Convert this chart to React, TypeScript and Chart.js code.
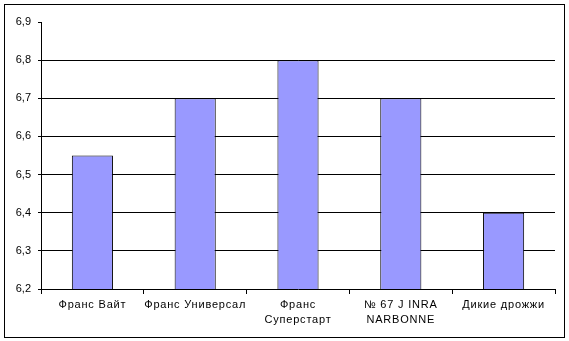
import React, { useEffect, useRef } from "react";
import { Chart, registerables } from "chart.js";

Chart.register(...registerables);

const categories: (string | string[])[] = [
  "Франс Вайт",
  "Франс Универсал",
  ["Франс", "Суперстарт"],
  ["№ 67 J INRA", "NARBONNE"],
  "Дикие дрожжи",
];
const values = [6.55, 6.7, 6.8, 6.7, 6.4];
const yMin = 6.2;
const yMax = 6.9;
const yStep = 0.1;

const borderPlugin = {
  id: "outerBorder",
  afterLayout(chart: any) {
    const sx = chart.scales.x;
    if (sx && !sx.__wrapped) {
      const orig = sx.drawLabels;
      sx.drawLabels = function (area: any) {
        const ctx = this.ctx;
        ctx.save();
        ctx.letterSpacing = "0.8px";
        orig.call(this, area);
        ctx.restore();
      };
      sx.__wrapped = true;
    }
  },
  afterDraw(chart: any) {
    const ctx = chart.ctx;
    ctx.save();
    ctx.strokeStyle = "#000";
    ctx.lineWidth = 1;
    ctx.strokeRect(4.5, 4.5, 560, 333);
    ctx.restore();
  },
};

export default function App() {
  const ref = useRef<HTMLCanvasElement | null>(null);
  useEffect(() => {
    document.body.style.margin = "0";
    if (!ref.current) return;
    const chart = new Chart(ref.current, {
      type: "bar",
      data: {
        labels: categories,
        datasets: [
          {
            data: values,
            backgroundColor: "#9999FF",
            borderColor: "#000000",
            borderWidth: 1,
            barPercentage: 0.8,
            categoryPercentage: 0.5,
          },
        ],
      },
      options: {
        animation: false,
        responsive: false,
        devicePixelRatio: 1,
        layout: { padding: { left: 0, top: 22, right: 14, bottom: 0 } },
        plugins: {
          legend: { display: false },
          tooltip: { enabled: false },
        },
        scales: {
          x: {
            grid: {
              display: true,
              offset: true,
              drawOnChartArea: false,
              tickLength: 5,
              tickColor: "#000",
            },
            border: { display: true, color: "#000", width: 1 },
            ticks: {
              color: "#000",
              font: { family: "Arial, 'Liberation Sans'", size: 11, lineHeight: 1.4 },
              maxRotation: 0,
              autoSkip: false,
              padding: 3,
            },
            afterFit: (scale: any) => {
              scale.height = 52;
            },
          },
          y: {
            min: yMin,
            max: yMax,
            ticks: {
              stepSize: yStep,
              color: "#000",
              font: { family: "Arial, 'Liberation Sans'", size: 11 },
              padding: 7,
              callback: (v: any) => Number(v).toFixed(1).replace(".", ","),
            },
            grid: {
              color: (c: any) =>
                c.tick && (Math.abs(c.tick.value - yMax) < 1e-6 || Math.abs(c.tick.value - yMin) < 1e-6)
                  ? "rgba(0,0,0,0)"
                  : "#000",
              tickColor: "#000",
              tickLength: 3,
              lineWidth: 1,
            },
            border: { display: true, color: "#000", width: 1 },
            afterFit: (scale: any) => {
              scale.width = 41;
            },
          },
        },
      },
      plugins: [borderPlugin],
    });
    return () => chart.destroy();
  }, []);
  return (
    <div style={{ position: "absolute", left: 0, top: 0, width: 569, height: 341, background: "#fff" }}>
      <canvas ref={ref} width={569} height={341} style={{ width: 569, height: 341 }} />
    </div>
  );
}
